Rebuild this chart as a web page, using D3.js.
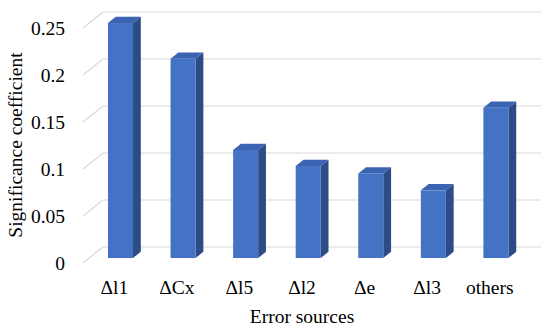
<!DOCTYPE html>
<html>
<head>
<meta charset="utf-8">
<script src="https://cdn.jsdelivr.net/npm/d3@7"></script>
<style>
  body { margin: 0; background: #fff; }
</style>
</head>
<body>
<svg id="chart" width="550" height="331"></svg>
<script>
// error sources and their significance coefficients
const categories = ["\u0394l1", "\u0394Cx", "\u0394l5", "\u0394l2", "\u0394e", "\u0394l3", "others"];
const values = [0.25, 0.212, 0.115, 0.098, 0.09, 0.072, 0.16];
const yTicks = [0, 0.05, 0.1, 0.15, 0.2, 0.25];
const yTickLabels = ["0", "0.05", "0.1", "0.15", "0.2", "0.25"];

const FONT = "'Liberation Serif', 'Times New Roman', Times, serif";

const svg = d3.select("#chart");

// 3D depth offset of the floor (front edge -> back wall)
const depthX = 20, depthY = -16;

// scales on the front plane of the floor
let x = d3.scaleBand().domain(categories).range([83, 521]).paddingInner(0.6).paddingOuter(0.3);
let y = d3.scaleLinear().domain([0, 0.25]).range([263, 28]);

function px(xv, t) { return xv + t * depthX; }
function py(v, t) { return y(v) + t * depthY; }

// gridlines: side wall diagonal + back wall line
let grid = svg.append("g").attr("class", "grid");
yTicks.forEach(function(v) {
    grid.append("line")
        .attr("x1", 83).attr("y1", py(v, 0))
        .attr("x2", px(83, 1)).attr("y2", py(v, 1))
        .attr("stroke", "#d9d9d9").attr("stroke-width", 1.2);
    grid.append("line")
        .attr("x1", px(83, 1)).attr("y1", py(v, 1))
        .attr("x2", px(521, 1)).attr("y2", py(v, 1))
        .attr("stroke", "#d9d9d9").attr("stroke-width", 1.2);
});

// bars sit between these depth fractions
const t0 = 0.31, t1 = 0.7;
let bars = svg.append("g").attr("class", "bars");
categories.forEach(function(c, i) {
    let v = values[i];
    let xl = x(c), xr = x(c) + x.bandwidth();
    let g = bars.append("g");
    // side face
    g.append("path")
        .attr("d", d3.line()([
            [px(xr, t0), py(v, t0)], [px(xr, t1), py(v, t1)],
            [px(xr, t1), py(0, t1)], [px(xr, t0), py(0, t0)]
        ]) + "Z")
        .attr("fill", "#2c4b87");
    // top face
    g.append("path")
        .attr("d", d3.line()([
            [px(xl, t0), py(v, t0)], [px(xr, t0), py(v, t0)],
            [px(xr, t1), py(v, t1)], [px(xl, t1), py(v, t1)]
        ]) + "Z")
        .attr("fill", "#3a63b2");
    // front face
    g.append("rect")
        .attr("x", px(xl, t0))
        .attr("y", py(v, t0))
        .attr("width", x.bandwidth())
        .attr("height", py(0, t0) - py(v, t0))
        .attr("fill", "#4472c4");
});

// y tick labels
svg.append("g").selectAll("text")
    .data(yTicks)
    .enter().append("text")
    .attr("x", 65)
    .attr("y", function(d) { return y(d); })
    .attr("dy", "0.35em")
    .attr("text-anchor", "end")
    .attr("font-family", FONT)
    .attr("font-size", 19.5)
    .attr("fill", "#000")
    .text(function(d, i) { return yTickLabels[i]; });

// category labels
let xc = d3.scaleBand().domain(categories).range([83, 521]);
svg.append("g").selectAll("text")
    .data(categories)
    .enter().append("text")
    .attr("x", function(d) { return xc(d) + xc.bandwidth() / 2; })
    .attr("y", 294)
    .attr("text-anchor", "middle")
    .attr("font-family", FONT)
    .attr("font-size", 19.5)
    .attr("fill", "#000")
    .text(function(d) { return d; });

// axis titles
svg.append("text")
    .attr("x", 302)
    .attr("y", 323)
    .attr("text-anchor", "middle")
    .attr("font-family", FONT)
    .attr("font-size", 19.5)
    .attr("fill", "#000")
    .text("Error sources");

svg.append("text")
    .attr("transform", "translate(22,145) rotate(-90)")
    .attr("text-anchor", "middle")
    .attr("font-family", FONT)
    .attr("font-size", 19.5)
    .attr("fill", "#000")
    .text("Significance coefficient");
</script>
</body>
</html>
